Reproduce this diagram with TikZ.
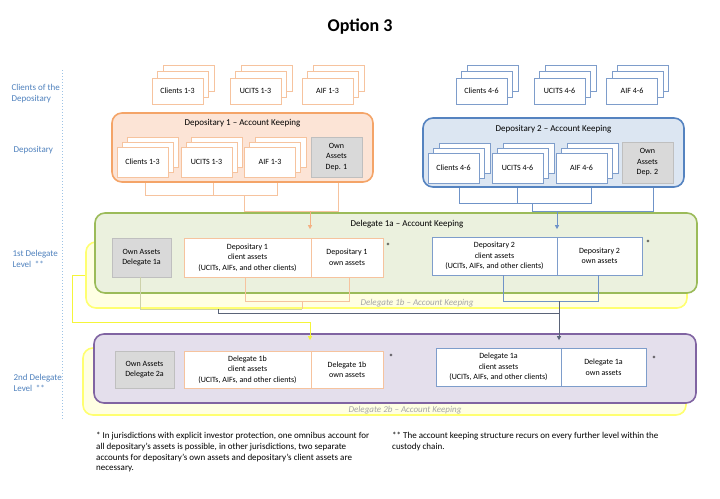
\documentclass[tikz,border=0pt]{standalone}
\usepackage{fontspec}
\setmainfont{Carlito}
\usetikzlibrary{arrows.meta,calc}
\definecolor{lblblue}{HTML}{4F81BD}
\definecolor{dotblue}{HTML}{9DC3E6}
\definecolor{orborder}{HTML}{F4A468}
\definecolor{orfill}{HTML}{FCE4D6}
\definecolor{orthin}{HTML}{F6C39E}
\definecolor{orarrow}{HTML}{F4B183}
\definecolor{blborder}{HTML}{5583C0}
\definecolor{blfill}{HTML}{DCE6F2}
\definecolor{blthin}{HTML}{7E9DCB}
\definecolor{blline}{HTML}{6F93C8}
\definecolor{grborder}{HTML}{9BBB59}
\definecolor{grfill}{HTML}{EBF1DE}
\definecolor{puborder}{HTML}{8064A2}
\definecolor{pufill}{HTML}{E4DFEC}
\definecolor{yeborder}{HTML}{FFFF70}
\definecolor{yefill}{HTML}{FFFFE3}
\definecolor{owngray}{HTML}{D9D9D9}
\definecolor{owndraw}{HTML}{BFBFBF}
\definecolor{darkln}{HTML}{5A6378}
\definecolor{olive}{HTML}{CDD2AA}
\definecolor{yeline}{HTML}{F5F53A}
\definecolor{italgray}{HTML}{A6A6A6}
\newcommand{\mystack}[7]{%
  \node[#2] (#1-b2) at ({#3+2*#5},{#4-2*#6}) {};
  \node[#2] (#1-b1) at ({#3+#5},{#4-#6}) {};
  \node[#2] (#1) at (#3,#4) {#7};
}
\tikzset{
  txt8/.style={font=\fontsize{8}{10.5}\selectfont},
  txt9/.style={font=\fontsize{9}{11}\selectfont},
  tstackO/.style={draw=orthin, fill=white, line width=0.8pt, minimum width=51pt, minimum height=26pt, inner sep=0pt, txt8},
  tstackB/.style={draw=blthin, fill=white, line width=0.8pt, minimum width=51pt, minimum height=26pt, inner sep=0pt, txt8},
  istackO/.style={draw=orthin, fill=white, line width=0.8pt, minimum width=51pt, minimum height=30pt, inner sep=0pt, txt8},
  istackB/.style={draw=blthin, fill=white, line width=0.8pt, minimum width=51pt, minimum height=30pt, inner sep=0pt, txt8},
  ownbox/.style={draw=owndraw, fill=owngray, line width=0.8pt, inner sep=0pt, align=center, txt8},
  assetO/.style={draw=orthin, fill=white, line width=0.8pt, inner sep=0pt, align=center, txt8},
  assetB/.style={draw=blthin, fill=white, line width=0.8pt, inner sep=0pt, align=center, txt8},
  bigbox/.style={rounded corners=10pt, line width=1.6pt, inner sep=0pt},
  lbl/.style={text=lblblue, align=left, anchor=west, txt9},
  oline/.style={draw=orthin, line width=0.8pt},
  bline/.style={draw=blline, line width=0.8pt},
  arrowtip/.style={-{Triangle[width=4pt,length=4pt]}},
  star/.style={font=\fontsize{9}{10}\selectfont, inner sep=0pt},
  ital/.style={text=italgray, font=\fontsize{9}{11}\selectfont\itshape, inner sep=0pt},
  footnote/.style={anchor=north west, align=left, inner sep=0pt, font=\fontsize{9}{10.8}\selectfont},
}
\begin{document}
\begin{tikzpicture}[x=1pt,y=-1pt]
\useasboundingbox (0,0) rectangle (720,498);

% title
\node[font=\fontsize{18}{20}\selectfont\bfseries] (title) at (360,27) {Option 3};

% left labels and dotted line
\coordinate (lt) at (62,70);
\coordinate (lb) at (62,420);
\draw[dotblue, line width=0.8pt, dash pattern=on 1.2pt off 1.8pt] (lt) -- (lb);
\node[lbl] (lab1) at (8,93.5) {Clients of the\\Depositary};
\node[lbl] (lab2) at (10,150) {Depositary};
\node[lbl] (lab3) at (9,258.5) {1st Delegate\\Level \,**};
\node[lbl] (lab4) at (10,383) {2nd Delegate\\Level \,**};

% top client stacks
\mystack{tc1}{tstackO}{177.5}{91}{5.5}{6.5}{Clients 1-3}
\mystack{tu1}{tstackO}{255.5}{91}{5.5}{6.5}{UCITS 1-3}
\mystack{ta1}{tstackO}{327.5}{91}{5.5}{6.5}{AIF 1-3}
\mystack{tc2}{tstackB}{481.5}{91}{5.5}{6.5}{Clients 4-6}
\mystack{tu2}{tstackB}{559.5}{91}{5.5}{6.5}{UCITS 4-6}
\mystack{ta2}{tstackB}{632}{91}{5.5}{6.5}{AIF 4-6}

% Depositary 1
\node[bigbox, draw=orborder, fill=orfill, minimum width=261pt, minimum height=69pt] (dep1) at (242.5,147.5) {};
\node[txt9] (dep1t) at (242.5,123) {Depositary 1 -- Account Keeping};
\mystack{ic1}{istackO}{142.5}{162}{5.3}{5}{Clients 1-3}
\mystack{iu1}{istackO}{206.5}{162}{5.3}{5}{UCITS 1-3}
\mystack{ia1}{istackO}{270}{162}{5.3}{5}{AIF 1-3}
\node[ownbox, minimum width=51pt, minimum height=40pt] (own1) at (336.5,157) {Own\\Assets\\Dep. 1};

% Depositary 2
\node[bigbox, draw=blborder, fill=blfill, minimum width=261pt, minimum height=69pt] (dep2) at (553.5,152.5) {};
\node[txt9] (dep2t) at (553.5,129) {Depositary 2 -- Account Keeping};
\mystack{ic2}{istackB}{453.5}{168}{5.5}{5}{Clients 4-6}
\mystack{iu2}{istackB}{517.5}{168}{5.5}{5}{UCITS 4-6}
\mystack{ia2}{istackB}{581.5}{168}{5.5}{5}{AIF 4-6}
\node[ownbox, minimum width=51pt, minimum height=41pt] (own2) at (647.5,162.5) {Own\\Assets\\Dep. 2};

% Delegate 1b (behind) and 1a
\node[bigbox, draw=yeborder, fill=yefill, minimum width=601pt, minimum height=66pt] (del1b) at (386.5,275) {};
\node[ital] (del1bt) at (417,303) {Delegate 1b -- Account Keeping};
\node[bigbox, draw=grborder, fill=grfill, minimum width=602pt, minimum height=80pt] (del1a) at (396,253) {};
\node[txt9] (del1at) at (407,224) {Delegate 1a -- Account Keeping};
\node[ownbox, minimum width=59pt, minimum height=39pt] (oa1a) at (141.5,257.5) {Own Assets\\Delegate 1a};
\node[assetO, minimum width=127pt, minimum height=39pt] (d1c) at (247.5,257.5) {Depositary 1\\client assets\\(UCITs, AIFs, and other clients)};
\node[assetO, minimum width=72pt, minimum height=39pt] (d1o) at (347,257.5) {Depositary 1\\own assets};
\node[star] (s1) at (388,246) {*};
\node[assetB, minimum width=125pt, minimum height=38pt] (d2c) at (494.5,256) {Depositary 2\\client assets\\(UCITs, AIFs, and other clients)};
\node[assetB, minimum width=85pt, minimum height=38pt] (d2o) at (599.5,256) {Depositary 2\\own assets};
\node[star] (s2) at (648,243) {*};

% Delegate 2b (behind) and 2a
\node[bigbox, draw=yeborder, fill=yefill, minimum width=603pt, minimum height=67pt] (del2b) at (384.5,381.5) {};
\node[ital] (del2bt) at (405,410) {Delegate 2b -- Account Keeping};
\node[bigbox, draw=puborder, fill=pufill, minimum width=602pt, minimum height=69pt] (del2a) at (395,368.5) {};
\node[ownbox, minimum width=59pt, minimum height=37pt] (oa2a) at (144.5,369.5) {Own Assets\\Delegate 2a};
\node[assetO, minimum width=127pt, minimum height=37pt] (e1c) at (247.5,369.5) {Delegate 1b\\client assets\\(UCITs, AIFs, and other clients)};
\node[assetO, minimum width=72pt, minimum height=37pt] (e1o) at (347,369.5) {Delegate 1b\\own assets};
\node[star] (s3) at (391,357) {*};
\node[assetB, minimum width=125pt, minimum height=38pt] (e2c) at (498.5,367) {Delegate 1a\\client assets\\(UCITs, AIFs, and other clients)};
\node[assetB, minimum width=85pt, minimum height=38pt] (e2o) at (603.5,367) {Delegate 1a\\own assets};
\node[star] (s4) at (654,359) {*};

% connectors Depositary 1 -> Delegate 1a
\coordinate (oj1) at (244,195);
\coordinate (oj2) at (310,211);
\draw[oline] ([xshift=2.5pt]ic1.south |- dep1.south) -- ++(0,13) -| ([xshift=7pt]ia1.south |- dep1.south);
\draw[oline] ([xshift=6.5pt]iu1.south |- dep1.south) -- ++(0,13);
\draw[oline] (oj1) -- (oj1 |- oj2) -| ([xshift=1.5pt]own1.south |- dep1.south);
\draw[draw=orarrow, line width=0.8pt, -{Triangle[width=4pt,length=4pt,fill=orarrow]}] (oj2) -- ([yshift=-17pt]oj2 |- del1a.north);

% connectors Depositary 2 -> Delegate 1a
\coordinate (bj1) at (532,203);
\coordinate (bj2) at (557,211);
\draw[bline] ([xshift=5.5pt]ic2.south |- dep2.south) -- ++(0,16) -| ([xshift=9.5pt]ia2.south |- dep2.south);
\draw[bline] ([xshift=-0.5pt]iu2.south |- dep2.south) -- ++(0,16);
\draw[bline] (bj1) -- (bj1 |- bj2) -| ([xshift=5.5pt]own2.south |- dep2.south);
\draw[bline, arrowtip] (bj2) -- ([yshift=-17pt]bj2 |- del1a.north);

% connectors Delegate 1a/1b -> Delegate 2a
\coordinate (gj1) at (302,301);
\coordinate (gj2) at (302,309);
\draw[oline] ([xshift=-2.5pt]d1c.south) -- ([xshift=-2.5pt]d1c.south |- gj1) -| ([xshift=2pt]d1o.south);
\draw[oline] (gj1) -- (gj2);
\draw[draw=olive, line width=0.8pt] ([xshift=-1.5pt]oa1a.south) |- (gj2);
\coordinate (kj1) at (218,309);
\coordinate (kj2) at (559,313);
\coordinate (bj3) at (559,301);
\draw[bline] ([xshift=8.5pt]d2c.south) -- ([xshift=8.5pt]d2c.south |- bj3) -| ([xshift=-1.5pt]d2o.south);
\draw[darkln, line width=0.8pt] (kj1) |- (kj2);
\draw[darkln, line width=0.8pt, -{Triangle[width=4pt,length=4pt]}] (bj3) -- ([yshift=-7pt]bj3 |- del2a.north);
\coordinate (yj1) at (72,322);
\coordinate (yj2) at (310,322);
\draw[yeline, line width=0.9pt, -{Triangle[width=4pt,length=4pt]}] (del1b.west) -- (del1b.west -| yj1) -- (yj1) -- (yj2) -- ([yshift=-7pt]yj2 |- del2a.north);

% footnotes
\node[footnote] (fn1) at (96,432)
 {* In jurisdictions with explicit investor protection, one omnibus account for\\all depositary's assets is possible, in other jurisdictions, two separate\\accounts for depositary's own assets and depositary's client assets are\\necessary.};
\node[footnote] (fn2) at (392,432)
 {** The account keeping structure recurs on every further level within the\\custody chain.};
\end{tikzpicture}
\end{document}
